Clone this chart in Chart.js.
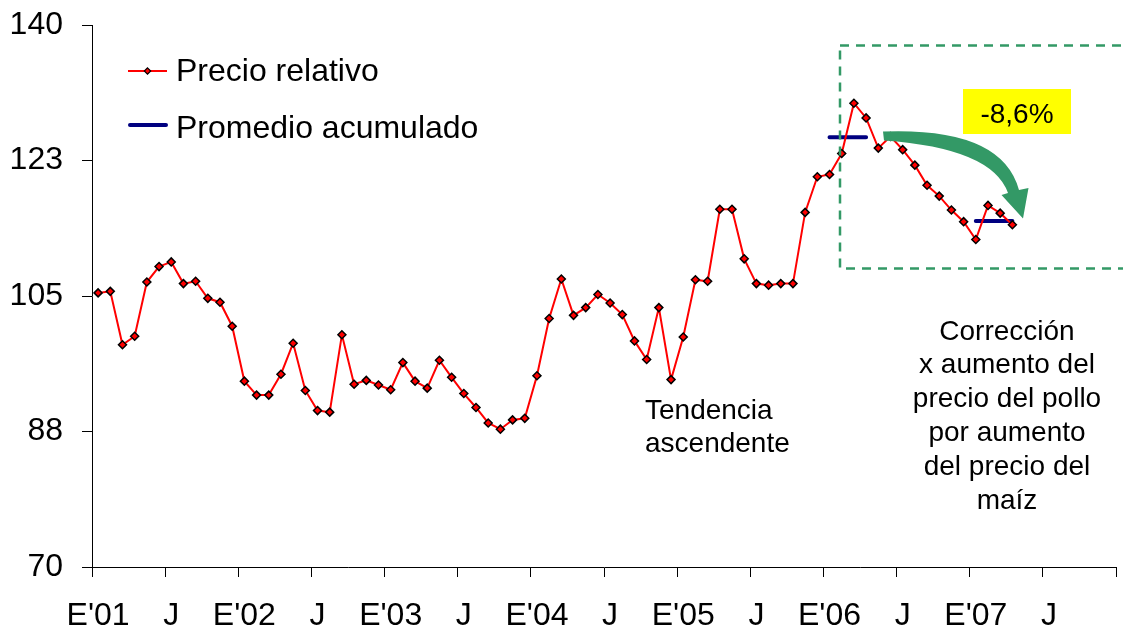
<!DOCTYPE html>
<html>
<head>
<meta charset="utf-8">
<script src="https://cdn.jsdelivr.net/npm/chart.js@4.4.1/dist/chart.umd.min.js"></script>
<style>
  html, body { margin: 0; padding: 0; background: #fff; }
</style>
</head>
<body>
<canvas id="grafico" width="1123" height="630"></canvas>
<script>
"use strict";

// ---------- Datos ----------
const meses = ["Ene", "Feb", "Mar", "Abr", "May", "Jun", "Jul", "Ago", "Sep", "Oct", "Nov", "Dic"];
const anios = ["01", "02", "03", "04", "05", "06", "07"];

// Jan 2001 .. Dec 2007 (84 months on the axis)
const categorias = [];
for (const a of anios) for (const m of meses) categorias.push(m + "-" + a);

const etiquetasEje = ["E'01", "J", "E'02", "J", "E'03", "J", "E'04", "J", "E'05", "J", "E'06", "J", "E'07", "J"];

// Precio relativo, Jan 2001 .. Apr 2007
const precioRelativo = [
  105.4, 105.6, 98.7, 99.8, 106.8, 108.8, 109.4, 106.6, 106.9, 104.7, 104.2, 101.1,
  94.0, 92.2, 92.2, 94.9, 98.9, 92.8, 90.2, 90.0, 100.0, 93.6, 94.1, 93.5,
  92.9, 96.4, 94.0, 93.1, 96.7, 94.5, 92.4, 90.6, 88.6, 87.8, 89.0, 89.2,
  94.7, 102.1, 107.2, 102.5, 103.5, 105.2, 104.1, 102.6, 99.2, 96.8, 103.5, 94.2,
  99.7, 107.1, 106.9, 116.2, 116.2, 109.8, 106.6, 106.4, 106.6, 106.6, 115.8, 120.4,
  120.7, 123.4, 129.9, 128.0, 124.1, 125.6, 123.9, 121.9, 119.3, 117.9, 116.1, 114.6,
  112.3, 116.7, 115.7, 114.2
];

// Promedio acumulado (Jan-Apr 2006 and Jan-Apr 2007)
const promedioAcumulado = [
  { x: "Ene-06", y: 125.5 }, { x: "Feb-06", y: 125.5 }, { x: "Mar-06", y: 125.5 }, { x: "Abr-06", y: 125.5 },
  { x: "May-06", y: null },
  { x: "Ene-07", y: 114.7 }, { x: "Feb-07", y: 114.7 }, { x: "Mar-07", y: 114.7 }, { x: "Abr-07", y: 114.7 }
];

const ticksY = [70, 87.5, 105, 122.5, 140];

const FUENTE = '"Liberation Sans", Arial, sans-serif';
const ROJO = "#FF0000";
const AZUL = "#000080";
const VERDE = "#339966";

// ---------- Plugins ----------
function rombo(ctx, x, y, r) {
  ctx.beginPath();
  ctx.moveTo(x, y - r);
  ctx.lineTo(x + r, y);
  ctx.lineTo(x, y + r);
  ctx.lineTo(x - r, y);
  ctx.closePath();
}

const anotaciones = {
  id: "anotaciones",
  afterDatasetsDraw(chart) {
    const ctx = chart.ctx;
    ctx.save();

    // dashed box
    ctx.strokeStyle = VERDE;
    ctx.lineWidth = 2.5;
    ctx.setLineDash([9, 7]);
    ctx.strokeRect(840, 45.5, 320, 223);
    ctx.setLineDash([]);

    // curved arrow
    ctx.fillStyle = VERDE;
    ctx.beginPath();
    ctx.moveTo(883, 131.5);
    ctx.quadraticCurveTo(1002, 127, 1019, 190);
    ctx.lineTo(1028.5, 188);
    ctx.lineTo(1023, 218.5);
    ctx.lineTo(1001.5, 195);
    ctx.lineTo(1008, 193);
    ctx.quadraticCurveTo(992, 148, 884, 140.5);
    ctx.closePath();
    ctx.fill();

    // yellow label
    ctx.fillStyle = "#FFFF00";
    ctx.fillRect(963, 89, 108, 45);
    ctx.fillStyle = "#000";
    ctx.font = "28px " + FUENTE;
    ctx.textAlign = "center";
    ctx.textBaseline = "alphabetic";
    ctx.fillText("-8,6%", 1017, 122.5);

    // notes
    ctx.textAlign = "left";
    ctx.fillText("Tendencia", 645, 419);
    ctx.fillText("ascendente", 645, 452);

    const nota = ["Corrección", "x aumento del", "precio del pollo", "por aumento", "del precio del", "maíz"];
    ctx.textAlign = "center";
    nota.forEach((t, i) => ctx.fillText(t, 1007, 339.5 + i * 33.8));

    ctx.restore();
  }
};

const leyenda = {
  id: "leyenda",
  afterDraw(chart) {
    const ctx = chart.ctx;
    const ds = chart.data.datasets;
    ctx.save();
    ctx.font = "32px " + FUENTE;
    ctx.fillStyle = "#000";
    ctx.textBaseline = "alphabetic";

    ctx.strokeStyle = ROJO;
    ctx.lineWidth = 2;
    ctx.beginPath();
    ctx.moveTo(128, 71);
    ctx.lineTo(167, 71);
    ctx.stroke();
    rombo(ctx, 147.5, 71, 3.2);
    ctx.fillStyle = ROJO;
    ctx.fill();
    ctx.strokeStyle = "#000";
    ctx.lineWidth = 1.2;
    ctx.stroke();
    ctx.fillStyle = "#000";
    ctx.fillText(ds[0].label, 176, 81);

    ctx.strokeStyle = AZUL;
    ctx.lineWidth = 4;
    ctx.lineCap = "round";
    ctx.beginPath();
    ctx.moveTo(130, 125);
    ctx.lineTo(166, 125);
    ctx.stroke();
    ctx.fillText(ds[1].label, 176, 138);

    ctx.restore();
  }
};

// ---------- Chart ----------
new Chart(document.getElementById("grafico"), {
  type: "line",
  data: {
    labels: categorias,
    datasets: [
      {
        label: "Precio relativo",
        data: precioRelativo,
        borderColor: ROJO,
        borderWidth: 2,
        pointStyle: "rectRot",
        pointRadius: 4,
        pointBackgroundColor: ROJO,
        pointBorderColor: "#000",
        pointBorderWidth: 1.5,
        tension: 0
      },
      {
        label: "Promedio acumulado",
        data: promedioAcumulado,
        borderColor: AZUL,
        borderWidth: 4,
        borderCapStyle: "round",
        pointRadius: 0,
        spanGaps: false
      }
    ]
  },
  options: {
    responsive: false,
    animation: false,
    layout: { padding: { top: 25, right: 7, left: 0, bottom: 0 } },
    plugins: {
      legend: { display: false },
      tooltip: { enabled: false }
    },
    scales: {
      x: {
        offset: true,
        grid: {
          offset: true,
          drawOnChartArea: false,
          tickLength: 10,
          color: c => (c.index === undefined || c.index % 6 === 0) ? "#000" : "rgba(0,0,0,0)"
        },
        border: { color: "#000", width: 1 },
        ticks: {
          autoSkip: false,
          maxRotation: 0,
          minRotation: 0,
          padding: 20,
          color: "#000",
          font: { family: FUENTE, size: 32 },
          callback: (v, i) => (i % 6 === 0 ? etiquetasEje[i / 6] : "")
        },
        afterFit: s => {
          s.height = 63;
          s.paddingLeft = 0; s.paddingRight = 0;
        }
      },
      y: {
        min: ticksY[0],
        max: ticksY[ticksY.length - 1],
        afterBuildTicks: s => { s.ticks = ticksY.map(v => ({ value: v })); },
        grid: { drawOnChartArea: false, tickLength: 10, color: "#000" },
        border: { color: "#000", width: 1 },
        ticks: {
          padding: 19,
          color: "#000",
          font: { family: FUENTE, size: 32 },
          callback: v => Math.round(v)
        },
        afterFit: s => {
          s.width = 92;
          s.paddingTop = 0; s.paddingBottom = 0;
        }
      }
    }
  },
  plugins: [anotaciones, leyenda]
});
</script>
</body>
</html>
